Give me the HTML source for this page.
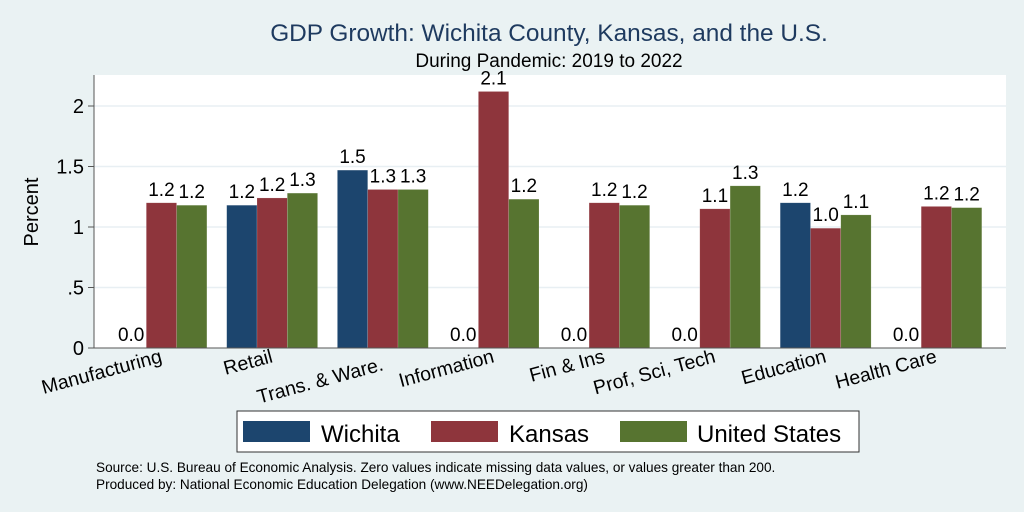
<!DOCTYPE html>
<html><head><meta charset="utf-8"><style>
body{margin:0;background:#eaf2f3;}
svg{display:block;font-family:"Liberation Sans",Arial,sans-serif;}
</style></head><body>
<svg id="chart" width="1024" height="512" viewBox="0 0 1024 512">
<rect x="0" y="0" width="1024" height="512" fill="#eaf2f3"/>
<text x="549" y="41" text-anchor="middle" font-size="24.4" fill="#1e3a5f">GDP Growth: Wichita County, Kansas, and the U.S.</text>
<text x="549" y="67" text-anchor="middle" font-size="19" fill="#000">During Pandemic: 2019 to 2022</text>
<rect x="94" y="75" width="912" height="273" fill="#fff"/>
<g id="grid"></g>
<g id="bars"></g>
<g id="labels"></g>
<line x1="94" y1="75" x2="94" y2="348" stroke="#555" stroke-width="1"/>
<line x1="94" y1="348" x2="1006" y2="348" stroke="#555" stroke-width="1"/>
<g id="yticks"></g>
<g id="xlabels"></g>
<text x="38" y="212" text-anchor="middle" font-size="20" transform="rotate(-90 38 212)">Percent</text>
<rect x="237" y="411" width="622" height="41" fill="#fff" stroke="#333" stroke-width="1"/>
<g id="legend"></g>
<text x="96" y="472" font-size="13.6">Source: U.S. Bureau of Economic Analysis. Zero values indicate missing data values, or values greater than 200.</text>
<text x="96" y="489" font-size="13.6">Produced by: National Economic Education Delegation (www.NEEDelegation.org)</text>
</svg>
<script>
const categories=["Manufacturing","Retail","Trans. & Ware.","Information","Fin & Ins","Prof, Sci, Tech","Education","Health Care"];
const seriesNames=["Wichita","Kansas","United States"];
const wichita=[0,1.18,1.47,0,0,0,1.2,0];
const kansas=[1.2,1.24,1.31,2.12,1.2,1.15,0.99,1.17];
const unitedStates=[1.18,1.28,1.31,1.23,1.18,1.34,1.1,1.16];
const yTicks=[0,0.5,1,1.5,2];
const yTickLabels=["0",".5","1","1.5","2"];
const colors=["#1c456e","#8e353c","#577430"];
const series=[wichita,kansas,unitedStates];
const NS="http://www.w3.org/2000/svg";
function y(v){return 348-v*121;}
function gx(i){return 116+i*110.7;}
const bw=30.3;
function mk(tag,attrs,parent,txt){const e=document.createElementNS(NS,tag);for(const k in attrs)e.setAttribute(k,attrs[k]);if(txt!==undefined)e.textContent=txt;document.getElementById(parent).appendChild(e);return e;}
yTicks.forEach((t,i)=>{
  if(t>0){const g=mk('line',{x1:94,x2:1006,y1:y(t),y2:y(t),stroke:'#e8eff3','stroke-width':1.5},'grid');
  
  }
  const tk=mk('line',{x1:88,x2:94,y1:y(t),y2:y(t),stroke:'#555'},'yticks');
  
  
  const tl=mk('text',{x:84,y:y(t)+7,'text-anchor':'end','font-size':20},'yticks',yTickLabels[i]);
  
  
});
categories.forEach((c,i)=>{
  series.forEach((s,j)=>{
    const v=s[i];const x=gx(i)+j*bw;
    if(v>0){const r=mk('rect',{x:x,y:y(v),width:bw,height:348-y(v),fill:colors[j],stroke:'rgba(255,255,255,0.3)','stroke-width':0.5},'bars');
    
    }
    const l=mk('text',{x:x+bw/2,y:y(v)-7,'text-anchor':'middle','font-size':19},'labels',v.toFixed(1));
    
    
  });
  const cx=gx(i)+47, cy=(i===2)?370:362;
  const xl=mk('text',{x:cx,y:cy,'text-anchor':'end','font-size':19.5,transform:'rotate(-15 '+cx+' '+cy+')'},'xlabels',c);
  
  
});
const legX=[243,431,620], legT=[321,509,697];
seriesNames.forEach((n,j)=>{
  const r=mk('rect',{x:legX[j],y:421,width:67,height:21,fill:colors[j]},'legend');
  
  
  const t=mk('text',{x:legT[j],y:442,'font-size':24},'legend',n);
  
  
});
</script>
</body></html>
